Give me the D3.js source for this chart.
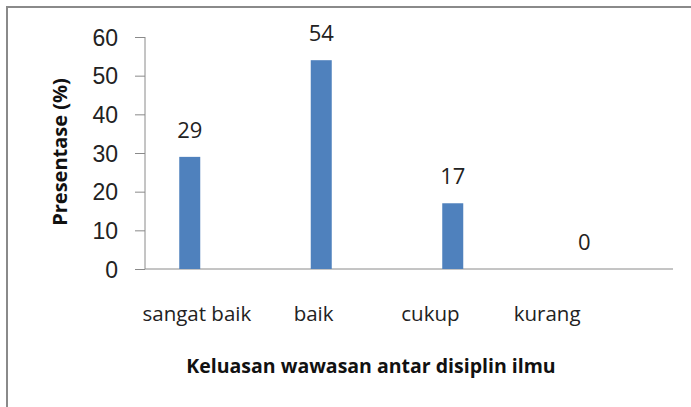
<!DOCTYPE html>
<html>
<head>
<meta charset="utf-8">
<script src="https://cdn.jsdelivr.net/npm/d3@7"></script>
<style>
  body { margin: 0; background: #fff; }
  svg { display: block; font-family: "Open Sans", "DejaVu Sans", sans-serif; }
</style>
</head>
<body>
<div id="chart"></div>
<script>
const categories = ['sangat baik', 'baik', 'cukup', 'kurang'];
const values = [29, 54, 17, 0];
const yTicks = [0, 10, 20, 30, 40, 50, 60];

const width = 691;
const height = 407;

const svg = d3.select('#chart')
  .append('svg')
  .attr('width', width)
  .attr('height', height);

// chart frame
svg.append('rect')
  .attr('x', 7)
  .attr('y', 7)
  .attr('width', 700)
  .attr('height', 420)
  .attr('fill', 'white')
  .attr('stroke', '#8a8a8a')
  .attr('stroke-width', 2);

const y = d3.scaleLinear().domain([0, 60]).range([269, 37]);

// bars and category labels sit on slightly different grids in the original
const xBars = d3.scaleBand().domain(categories).range([124, 650]);
const xLabels = d3.scaleBand().domain(categories).range([138.5, 605.5]);
const barWidth = 21;

// y axis
const yAxis = svg.append('g')
  .attr('transform', 'translate(145,0)')
  .call(d3.axisLeft(y).tickValues(yTicks).tickSize(10).tickPadding(17));
yAxis.select('.domain').attr('stroke', '#8a8a8a').attr('d', 'M0,37V269');
yAxis.selectAll('.tick line').attr('stroke', '#8a8a8a');
yAxis.selectAll('.tick text')
  .attr('fill', '#222')
  .style('font-size', '23px')
  .attr('dy', '0.36em');

// x axis line
svg.append('line')
  .attr('x1', 145).attr('x2', 673)
  .attr('y1', y(0)).attr('y2', y(0))
  .attr('stroke', '#8a8a8a')
  .attr('stroke-width', 1);

// bars
svg.selectAll('.bar')
  .data(values)
  .enter()
  .append('rect')
  .attr('class', 'bar')
  .attr('x', (d, i) => xBars(categories[i]) + xBars.bandwidth() / 2 - barWidth / 2)
  .attr('y', (d) => y(d))
  .attr('width', barWidth)
  .attr('height', (d) => y(0) - y(d))
  .attr('fill', '#4f81bd');

// value labels
svg.selectAll('.value')
  .data(values)
  .enter()
  .append('text')
  .attr('class', 'value')
  .attr('x', (d, i) => xBars(categories[i]) + xBars.bandwidth() / 2)
  .attr('y', (d) => y(d) - 19)
  .attr('text-anchor', 'middle')
  .attr('fill', '#222')
  .style('font-size', '22px')
  .text((d) => d);

// category labels
svg.selectAll('.cat')
  .data(categories)
  .enter()
  .append('text')
  .attr('class', 'cat')
  .attr('x', (d) => xLabels(d) + xLabels.bandwidth() / 2)
  .attr('y', 321)
  .attr('text-anchor', 'middle')
  .attr('fill', '#222')
  .style('font-size', '20.5px')
  .text((d) => d);

// axis titles
svg.append('text')
  .attr('x', 371)
  .attr('y', 373)
  .attr('text-anchor', 'middle')
  .attr('fill', '#111')
  .style('font-size', '19.5px')
  .style('font-weight', 'bold')
  .text('Keluasan wawasan antar disiplin ilmu');

svg.append('text')
  .attr('transform', 'translate(67,152) rotate(-90)')
  .attr('text-anchor', 'middle')
  .attr('fill', '#111')
  .style('font-size', '20px')
  .style('font-weight', 'bold')
  .text('Presentase (%)');
</script>
</body>
</html>
